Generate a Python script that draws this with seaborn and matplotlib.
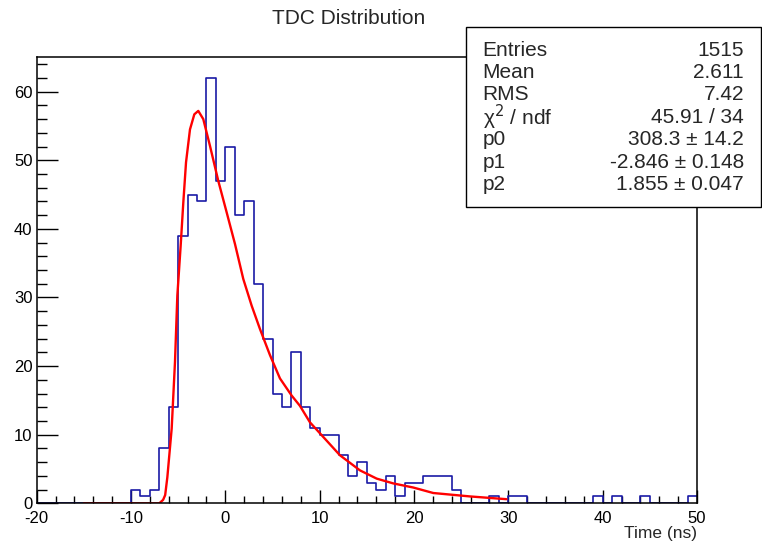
import numpy as np
import pandas as pd
import seaborn as sns
import matplotlib.pyplot as plt
from matplotlib.patches import Rectangle
from matplotlib.ticker import MultipleLocator

# TDC histogram, 1 ns bins from -20 to 50
bin_lo, bin_hi, bin_w = -20, 50, 1
counts = [0, 0, 0, 0, 0, 0, 0, 0, 0, 0,
          2, 1, 2, 8, 14, 39, 45, 44, 62, 47,
          52, 42, 44, 32, 24, 16, 14, 22, 14, 11,
          10, 10, 7, 4, 6, 3, 2, 4, 1, 3,
          3, 4, 4, 4, 2, 0, 0, 0, 1, 0,
          1, 1, 0, 0, 0, 0, 0, 0, 0, 1,
          0, 1, 0, 0, 1, 0, 0, 0, 0, 1]

# fit curve
fit_x = [-15.0, -7.0, -6.6, -6.38, -6.15, -5.69, -5.34, -5.09, -4.74, -4.46,
         -4.17, -3.75, -3.29, -2.87, -2.34, -1.63, -0.75, 0.14, 1.02, 1.90,
         2.79, 3.67, 4.73, 5.79, 7.03, 7.91, 8.97, 10.03, 12.15, 14.27,
         16.04, 17.8, 19.92, 22.04, 25.95, 29.8]
fit_y = [0.0, 0.0, 0.5, 1.2, 3.8, 10.9, 20.6, 30.3, 37.5, 43.8,
         49.7, 54.5, 56.7, 57.2, 56.0, 52.1, 47.0, 42.4, 37.8, 32.7,
         28.8, 25.4, 21.6, 18.2, 15.7, 14.2, 11.8, 10.2, 7.0, 4.8,
         3.6, 2.9, 2.3, 1.5, 1.0, 0.6]

stat_names = ['Entries', 'Mean', 'RMS', 'χ$^{2}$ / ndf', 'p0', 'p1', 'p2']
stat_values = ['1515', '2.611', '7.42', '45.91 / 34',
               '308.3 ± 14.2', '-2.846 ± 0.148', '1.855 ± 0.047']

sns.set_theme(style='ticks')
plt.rcParams['font.family'] = ['Liberation Sans', 'DejaVu Sans']
plt.rcParams['axes.unicode_minus'] = False

W, H = 762, 547
fig = plt.figure(figsize=(W / 100, H / 100), dpi=100)
ax = fig.add_axes([36.7 / W, 1 - 503.3 / H, (697 - 36.7) / W, (503.3 - 56.7) / H])

centers = np.arange(bin_lo, bin_hi, bin_w) + bin_w / 2
hist_df = pd.DataFrame({'time': centers, 'count': counts})
sns.histplot(data=hist_df, x='time', weights='count', binwidth=bin_w,
             binrange=(bin_lo, bin_hi), element='step', fill=False,
             color='#1a1aa6', linewidth=1.2, ax=ax)

fit_df = pd.DataFrame({'time': fit_x, 'fit': fit_y})
sns.lineplot(data=fit_df, x='time', y='fit', color='red', linewidth=1.7, ax=ax)

ax.set_xlim(-20, 50)
ax.set_ylim(0, 65.1)
ax.set_xlabel('')
ax.set_ylabel('')
for s in ax.spines.values():
    s.set_visible(True)
    s.set_linewidth(1.1)
    s.set_color('black')

ax.xaxis.set_major_locator(MultipleLocator(10))
ax.xaxis.set_minor_locator(MultipleLocator(2))
ax.yaxis.set_major_locator(MultipleLocator(10))
ax.yaxis.set_minor_locator(MultipleLocator(2))
ax.tick_params(axis='x', which='major', direction='in', length=9.6, width=1.0, pad=5.5, labelsize=12)
ax.tick_params(axis='x', which='minor', direction='in', length=4.8, width=1.0)
ax.tick_params(axis='y', which='major', direction='in', length=14.9, width=1.0, pad=3, labelsize=12)
ax.tick_params(axis='y', which='minor', direction='in', length=7.2, width=1.0)
ax.tick_params(top=False, right=False, which='both', colors='black')

fig.text(349 / W, 1 - 18 / H, 'TDC Distribution', ha='center', va='center', fontsize=15)
fig.text(697 / W, 1 - 533.5 / H, 'Time (ns)', ha='right', va='center', fontsize=12.5)

# stats box
box = Rectangle((466 / W, 1 - 206.7 / H), (761 - 466) / W, (206.7 - 26.7) / H,
                transform=fig.transFigure, facecolor='white', edgecolor='black',
                linewidth=1.0, zorder=5)
fig.add_artist(box)
for i, (name, val) in enumerate(zip(stat_names, stat_values)):
    y = 1 - (50 + i * 22.4) / H
    fig.text(482.7 / W, y, name, ha='left', va='center', fontsize=15, zorder=6)
    fig.text(744 / W, y, val, ha='right', va='center', fontsize=15, zorder=6)

fig.savefig('out.png', dpi=100)
